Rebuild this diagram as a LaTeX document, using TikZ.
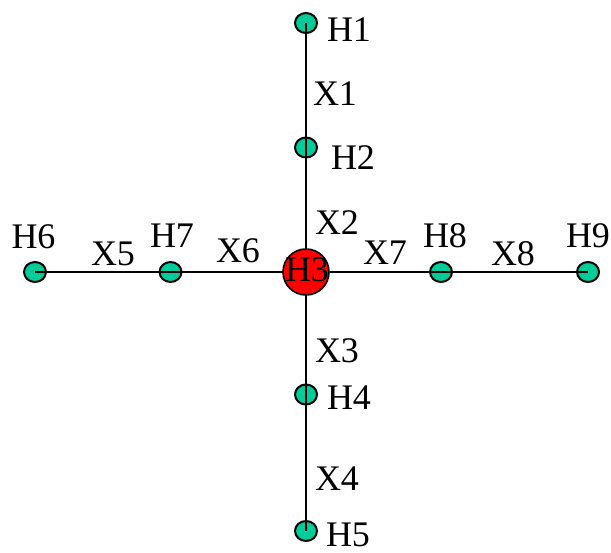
\documentclass[tikz,border=0pt]{standalone}
\usepackage{fontspec}
\setmainfont{Liberation Serif}
\usetikzlibrary{shapes.geometric}
\definecolor{hgreen}{RGB}{0,204,153}
\pgfdeclarelayer{fg}
\pgfsetlayers{main,fg}
\begin{document}
\begin{tikzpicture}[x=1pt,y=-1pt,
  hnode/.style={ellipse,draw=black,fill=hgreen,line width=2pt,minimum width=22pt,minimum height=20pt,inner sep=0pt},
  bignode/.style={circle,draw=black,fill=red,line width=1.6pt,minimum size=46pt,inner sep=0pt},
  conn/.style={line width=2pt,black},
  lbl/.style={anchor=base,inner sep=0pt,font=\fontsize{36}{40}\selectfont}]
\useasboundingbox (0,0) rectangle (611,553);
\node[hnode] (H1) at (306,23) {};
\node[hnode] (H2) at (306,147.5) {};
\node[hnode] (H4) at (306,394.5) {};
\node[hnode] (H5) at (306,531) {};
\node[hnode] (H6) at (35,272) {};
\node[hnode] (H7) at (170.5,272) {};
\node[hnode] (H8) at (441,272) {};
\node[hnode] (H9) at (588,272) {};
\begin{pgfonlayer}{fg}
\node[bignode] (H3) at (306,272) {};
\node[lbl] (tH3) at (307,282) {H3};
\end{pgfonlayer}
\draw[conn] (H1.center) -- (H2.center);
\draw[conn] (H2.center) -- (H3.center);
\draw[conn] (H3.center) -- (H4.center);
\draw[conn] (H4.center) -- (H5.center);
\draw[conn] (H6.center) -- (H7.center);
\draw[conn] (H7.center) -- (H3.center);
\draw[conn] (H3.center) -- (H8.center);
\draw[conn] (H8.center) -- (H9.center);
\node[lbl] (tH1) at (349,42) {H1};
\node[lbl] (tX1) at (335,106) {X1};
\node[lbl] (tH2) at (353,170) {H2};
\node[lbl] (tX2) at (337,235) {X2};
\node[lbl] (tX7) at (385,265) {X7};
\node[lbl] (tH8) at (445,248) {H8};
\node[lbl] (tX8) at (513,266) {X8};
\node[lbl] (tH9) at (588,248) {H9};
\node[lbl] (tH6) at (33.5,249) {H6};
\node[lbl] (tX5) at (113,266) {X5};
\node[lbl] (tH7) at (172,248) {H7};
\node[lbl] (tX6) at (238,263) {X6};
\node[lbl] (tX3) at (337,363) {X3};
\node[lbl] (tH4) at (349,410) {H4};
\node[lbl] (tX4) at (337,490) {X4};
\node[lbl] (tH5) at (348,546) {H5};
\end{tikzpicture}
\end{document}
